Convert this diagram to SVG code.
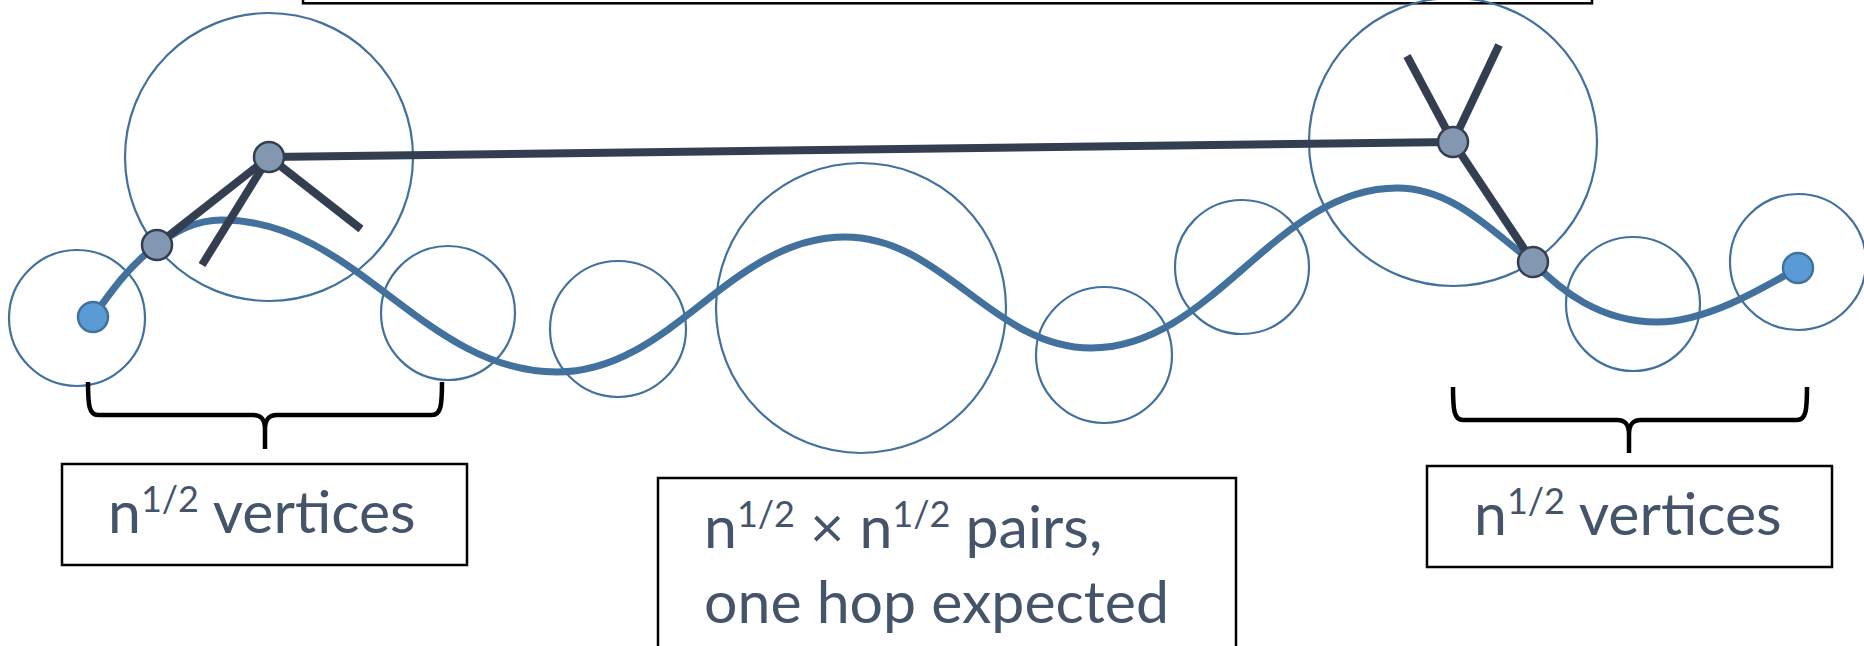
<svg xmlns="http://www.w3.org/2000/svg" width="1864" height="646" viewBox="0 0 1864 646">
<style>
.ring{fill:none;stroke:#41719c;stroke-width:2.2}
.edge{stroke:#333f50;stroke-width:8;stroke-linecap:butt;fill:none}
.route{fill:none;stroke:#41719c;stroke-width:7;stroke-linecap:round}
.vert{fill:#8497b0;stroke:#333f50;stroke-width:2.5}
.term{fill:#5b9bd5;stroke:#41719c;stroke-width:2.5}
.box{fill:#fff;stroke:#000;stroke-width:2.5}
.brace{fill:none;stroke:#000;stroke-width:4.5;stroke-linejoin:round}
.lbl{font-family:Lato,"Open Sans",sans-serif;font-size:59px;fill:#44546a}
.sup{font-size:36px}
</style>
<rect width="1864" height="646" fill="#fff"/>
<g id="topbox"><rect class="box" x="303" y="-100" width="1289" height="103.3"/></g>
<g id="rings">
<circle class="ring" cx="77" cy="318" r="68"/>
<circle class="ring" cx="269" cy="157" r="144"/>
<circle class="ring" cx="448" cy="313" r="67"/>
<circle class="ring" cx="618" cy="329" r="68"/>
<circle class="ring" cx="861" cy="308" r="145"/>
<circle class="ring" cx="1104" cy="355" r="68"/>
<circle class="ring" cx="1242" cy="267" r="67"/>
<circle class="ring" cx="1453" cy="142" r="144"/>
<circle class="ring" cx="1633" cy="304" r="67"/>
<circle class="ring" cx="1798" cy="262" r="68"/>
</g>
<g id="connectors">
<path class="route" d="M93,317 C112,290 130,265 157,245 C175,232 195,220 222,220 C356,220 423,372 557,372 C672,372 730,237 845,237 C943,237 993,348 1091,348 C1213,348 1275,188 1397,188 C1455,188 1495,235 1533,262 C1560,290 1600,322 1657,322 C1705,322 1760,290 1798,268"/>
<line class="edge" x1="269" y1="157" x2="1453" y2="142"/>
<line class="edge" x1="269" y1="157" x2="157" y2="245"/>
<line class="edge" x1="269" y1="157" x2="361" y2="229"/>
<line class="edge" x1="269" y1="157" x2="202" y2="265"/>
<line class="edge" x1="1453" y1="142" x2="1407" y2="56"/>
<line class="edge" x1="1453" y1="142" x2="1499" y2="45"/>
<line class="edge" x1="1453" y1="142" x2="1533" y2="262"/>
</g>
<g id="node-start"><circle class="term" cx="93" cy="317" r="15"/></g>
<g id="node-b"><circle class="vert" cx="157" cy="245" r="15"/></g>
<g id="node-a"><circle class="vert" cx="269" cy="157" r="15"/></g>
<g id="node-c"><circle class="vert" cx="1453" cy="142" r="15"/></g>
<g id="node-d"><circle class="vert" cx="1533" cy="262" r="15"/></g>
<g id="node-end"><circle class="term" cx="1798" cy="268" r="15"/></g>
<g id="brace-left"><path class="brace" d="M88,382 C88,405 89,415 98,415 L253,415 C261,415 265,419 265,430 L265,449 M265,430 C265,419 269,415 277,415 L432,415 C441,415 442,405 442,382"/></g>
<g id="brace-right"><path class="brace" d="M1453,387 C1453,410 1454,420 1463,420 L1617,420 C1625,420 1629,424 1629,435 L1629,453 M1629,435 C1629,424 1633,420 1641,420 L1797,420 C1806,420 1807,410 1807,387"/></g>
<g id="label-left">
<rect class="box" x="62" y="464" width="405" height="101"/>
<text class="lbl" x="108" y="533">n<tspan class="sup" dy="-21">1/2</tspan><tspan dy="21"> vertices</tspan></text>
</g>
<g id="label-middle">
<rect class="box" x="658" y="478" width="578" height="220"/>
<text class="lbl" x="704" y="548">n<tspan class="sup" dy="-21">1/2</tspan><tspan dy="21"> × n</tspan><tspan class="sup" dy="-21">1/2</tspan><tspan dy="21"> pairs,</tspan></text>
<text class="lbl" x="704" y="623">one hop expected</text>
</g>
<g id="label-right">
<rect class="box" x="1427" y="466" width="405" height="101"/>
<text class="lbl" x="1474" y="535">n<tspan class="sup" dy="-21">1/2</tspan><tspan dy="21"> vertices</tspan></text>
</g>
</svg>
